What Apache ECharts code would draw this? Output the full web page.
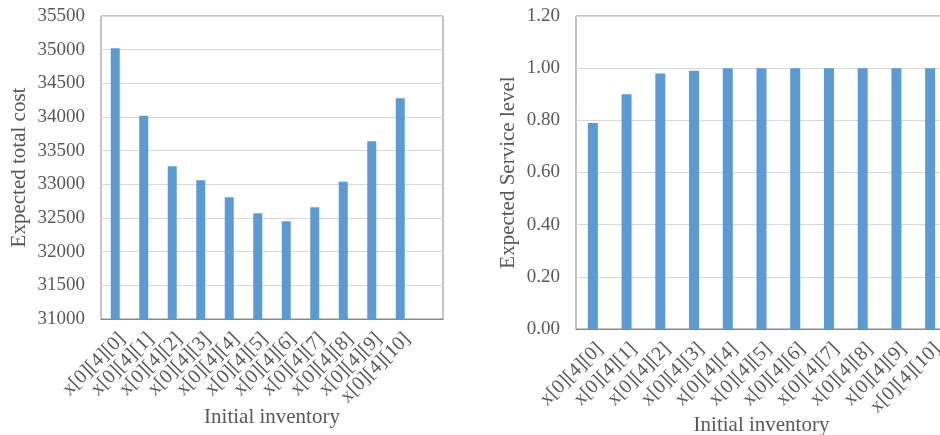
<!DOCTYPE html>
<html>
<head>
<meta charset="utf-8">
<script src="https://cdn.jsdelivr.net/npm/echarts@6/dist/echarts.min.js"></script>
<style>
  html, body { margin: 0; padding: 0; background: #fff; }
  #chart { width: 940px; height: 435px; }
</style>
</head>
<body>
<div id="chart"></div>
<script>
// Inventory levels tested for node x[0][4]
const categories = ['x[0][4][0]', 'x[0][4][1]', 'x[0][4][2]', 'x[0][4][3]', 'x[0][4][4]',
  'x[0][4][5]', 'x[0][4][6]', 'x[0][4][7]', 'x[0][4][8]', 'x[0][4][9]', 'x[0][4][10]'];

// Expected total cost per initial inventory
const totalCost = [35020, 34020, 33270, 33060, 32810, 32570, 32450, 32660, 33040, 33640, 34280];

// Expected service level per initial inventory
const serviceLevel = [0.79, 0.90, 0.98, 0.99, 1.00, 1.00, 1.00, 1.00, 1.00, 1.00, 1.00];

// Cost axis keeps one spare slot on the right
const costCategories = categories.concat(['']);

const FONT = 'Liberation Serif';
const TEXT = '#595959';
const BAR = '#5b9bd5';
const GRIDLINE = '#d9d9d9';
const FRAME = '#8a8a8a';

const chart = echarts.init(document.getElementById('chart'));

function xAxisFor(idx, data, gap) {
  return {
    type: 'category',
    gridIndex: idx,
    data: data,
    name: 'Initial inventory',
    nameLocation: 'middle',
    nameGap: gap,
    nameMoveOverlap: false,
    nameTextStyle: { fontFamily: FONT, fontSize: 21, color: TEXT },
    axisLine: { show: true, lineStyle: { color: FRAME, width: 1 } },
    axisTick: { show: false },
    axisLabel: {
      rotate: 45, interval: 0, margin: 10,
      align: 'right', verticalAlign: 'top',
      fontFamily: FONT, fontSize: 20, color: TEXT
    },
    splitLine: { show: false }
  };
}

function yAxisFor(idx, name, min, max, step, fmt, gap) {
  return {
    type: 'value',
    gridIndex: idx,
    min: min, max: max, interval: step,
    name: name,
    nameLocation: 'middle',
    nameGap: gap,
    nameMoveOverlap: false,
    nameTextStyle: { fontFamily: FONT, fontSize: 21, color: TEXT },
    axisLine: { show: false },
    axisTick: { show: false },
    axisLabel: { margin: 16, fontFamily: FONT, fontSize: 19, color: TEXT, formatter: fmt },
    splitLine: { show: true, lineStyle: { color: GRIDLINE, width: 1 } }
  };
}

const gridBase = {
  show: true, borderColor: FRAME, borderWidth: 1, backgroundColor: 'transparent',
  containLabel: false, outerBoundsMode: 'none'
};

chart.setOption({
  animation: false,
  backgroundColor: '#ffffff',
  grid: [
    Object.assign({ left: 101, top: 16, width: 342, height: 303 }, gridBase),
    Object.assign({ left: 576, top: 16, width: 371, height: 313 }, gridBase)
  ],
  xAxis: [
    xAxisFor(0, costCategories, 88),
    xAxisFor(1, categories, 86)
  ],
  yAxis: [
    yAxisFor(0, 'Expected total cost', 31000, 35500, 500, v => String(v), 71),
    yAxisFor(1, 'Expected Service level', 0, 1.2, 0.2, v => v.toFixed(2), 57)
  ],
  series: [
    {
      type: 'bar', xAxisIndex: 0, yAxisIndex: 0,
      data: totalCost, barWidth: 9,
      itemStyle: { color: BAR }
    },
    {
      type: 'bar', xAxisIndex: 1, yAxisIndex: 1,
      data: serviceLevel, barWidth: 10,
      itemStyle: { color: BAR }
    }
  ]
});
</script>
</body>
</html>
